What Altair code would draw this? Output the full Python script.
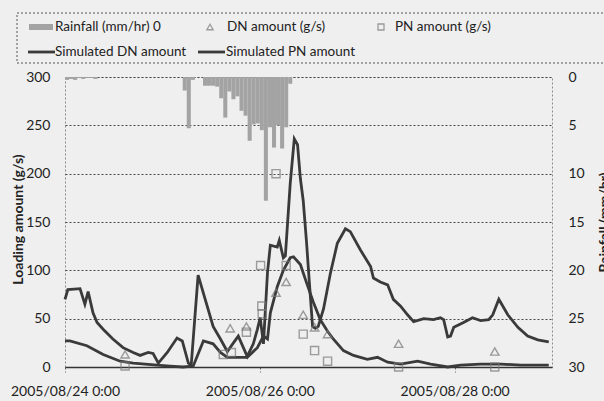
import altair as alt
import pandas as pd

BASE = pd.Timestamp("2005-08-24 00:00")

# ---------------- data (hours after 2005/08/24 0:00) ----------------
rain_hours = [0, 1, 2, 3, 4, 5, 6, 7,
              29, 30, 31, 34, 35, 36, 37, 38, 39, 40, 41, 42, 43, 44, 45,
              46, 47, 48, 49, 50, 51, 52, 53, 54, 55]
rain_mm = [0.3, 0.2, 0.3, 0.1, 0.2, 0.1, 0.1, 0.2,
           1.4, 5.3, 0.3, 0.9, 0.9, 0.9, 1.0, 2.2, 4.2, 1.5, 2.3, 2.0, 3.5, 4.0, 6.6,
           4.9, 4.8, 5.5, 12.8, 5.2, 7.3, 5.0, 7.4, 5.2, 0.7]

sim_dn_hours = [0.0, 0.7, 3.7, 4.9, 5.7, 6.9, 7.9, 9.4, 11.8, 14.3, 16.8, 18.5, 20.5, 21.7,
                23.0, 25.2, 27.6, 28.9, 30.4, 31.1, 32.8, 36.5, 38.3, 40.0, 41.5, 42.7,
                44.9, 46.4, 47.4, 48.1, 48.9, 49.9, 50.6, 52.3, 52.8, 53.8, 54.3, 55.5,
                56.5, 57.3, 58.0, 58.7, 59.5, 60.2, 61.0, 61.7, 62.4, 63.7, 65.4, 67.1,
                69.1, 70.3, 72.8, 75.3, 76.0, 77.7, 79.5, 80.9, 82.7, 84.4, 85.9, 88.4,
                90.8, 92.5, 93.3, 94.3, 95.0, 95.8, 98.2, 100.4, 102.4, 104.4, 105.4,
                106.9, 109.1, 111.6, 114.0, 116.5, 119.2]
sim_dn_vals = [70, 80, 81, 65, 78, 56, 46, 39, 29, 20, 15, 12, 15, 14,
               4, 15, 30, 27, 4, 2, 95, 42, 29, 16, 25, 32,
               11, 24, 39, 51, 24, 98, 126, 124, 131, 113, 115, 190,
               236, 230, 195, 172, 130, 88, 42, 40, 42, 60, 97, 128,
               143, 140, 121, 104, 92, 88, 85, 70, 63, 54, 47, 50,
               49, 51, 49, 31, 32, 41, 46, 51, 48, 49, 54,
               70, 54, 41, 32, 28, 26]

sim_pn_hours = [0.0, 1.2, 5.4, 9.4, 13.6, 16.8, 22.7, 25.9, 29.1, 31.6, 34.1, 36.5, 38.3,
                40.0, 44.9, 47.4, 48.9, 49.9, 50.6, 52.3, 53.8, 55.5, 56.3, 58.0, 59.7,
                61.2, 62.9, 64.7, 66.1, 68.6, 71.1, 74.5, 77.0, 79.5, 82.7, 86.9, 90.1,
                94.3, 97.5, 102.4, 107.4, 112.3, 119.2]
sim_pn_vals = [27, 27, 22, 13, 6, 4, 2, 1, 0, 1, 27, 24, 15,
               10, 10, 20, 32, 29, 56, 83, 100, 113, 114, 106, 85,
               67, 49, 37, 29, 17, 12, 8, 10, 5, 3, 6, 3,
               0, 2, 3, 3, 2, 2]

dn_obs_hours = [14.8, 40.7, 44.7, 52.0, 54.5, 58.7, 61.5, 64.7, 82.2, 105.9]
dn_obs_vals = [13, 40, 42, 77, 88, 54, 41, 34, 24, 16]

pn_obs_hours = [14.8, 39.0, 41.0, 44.7, 48.2, 48.5, 48.6, 52.0, 54.5, 58.7, 61.5, 64.7, 82.2, 105.9]
pn_obs_vals = [1, 13, 15, 36, 105, 63, 55, 200, 105, 34, 17, 6, 0, 0]

x_ticks = ["2005-08-24", "2005-08-26", "2005-08-28"]
left_ticks = [0, 50, 100, 150, 200, 250, 300]
right_ticks = [0, 5, 10, 15, 20, 25, 30]


def to_time(hours):
    return [BASE + pd.Timedelta(hours=h) for h in hours]


rain_df = pd.DataFrame({"time": to_time(rain_hours),
                        "end": to_time([h + 1 for h in rain_hours]),
                        "rain": rain_mm})
sim_df = pd.concat([
    pd.DataFrame({"time": to_time(sim_dn_hours), "value": sim_dn_vals, "series": "Simulated DN amount"}),
    pd.DataFrame({"time": to_time(sim_pn_hours), "value": sim_pn_vals, "series": "Simulated PN amount"}),
])
dn_df = pd.DataFrame({"time": to_time(dn_obs_hours), "value": dn_obs_vals})
pn_df = pd.DataFrame({"time": to_time(pn_obs_hours), "value": pn_obs_vals})

FONT = "Lato"
LINE = "#3a3a3a"
MARK = "#787878"
RAIN = "#a3a3a3"

x_enc = alt.X(
    "time:T",
    scale=alt.Scale(domain=[alt.DateTime(year=2005, month=8, date=24, hours=0),
                            alt.DateTime(year=2005, month=8, date=29, hours=0)]),
    axis=alt.Axis(
        values=[alt.DateTime(year=2005, month=8, date=int(d[-2:]), hours=0) for d in x_ticks],
        format="%Y/%m/%d %-H:%M", labelFlush=False, labelOverlap=False, grid=False,
        tickSize=5, tickColor="#666", tickDash=[2, 2], domainColor="#333", domainWidth=1.5,
        labelPadding=12, title=None),
)

y_left = alt.Y(
    "value:Q",
    scale=alt.Scale(domain=[0, 300]),
    axis=alt.Axis(values=left_ticks, grid=True, gridDash=[2, 2], gridColor="#4a4a4a",
                  ticks=False, domain=False, labelPadding=15,
                  title="Loading amount (g/s)", titleAngle=270, titleX=-43, titleY=142,
                  titleAlign="center", titleBaseline="alphabetic"),
)

rain = alt.Chart(rain_df).mark_bar(color=RAIN).encode(
    x=x_enc,
    x2="end:T",
    y=alt.Y("rain:Q", scale=alt.Scale(domain=[0, 30], reverse=True),
            axis=alt.Axis(orient="right", values=right_ticks, grid=False, ticks=False,
                          domain=False, labelPadding=16, title="Rainfall (mm/hr)",
                          titleAngle=270, titleX=56, titleY=145, titleAlign="center",
                          titleBaseline="alphabetic")),
    y2=alt.datum(0),
)

lines = alt.Chart(sim_df).mark_line(color=LINE, strokeWidth=2.8).encode(
    x=x_enc, y=y_left, detail="series:N")
dn_pts = alt.Chart(dn_df).mark_point(shape="triangle-up", filled=False, color=MARK,
                                     size=70, strokeWidth=1.4).encode(x=x_enc, y=y_left)
pn_pts = alt.Chart(pn_df).mark_point(shape="square", filled=False, color=MARK,
                                     size=65, strokeWidth=1.4).encode(x=x_enc, y=y_left)

# ---------------- manual legend ----------------
one = pd.DataFrame({"k": [0]})


def ltext(txt, x, y):
    return alt.Chart(one).mark_text(align="left", baseline="middle", font=FONT,
                                    fontSize=13.5, color="#222").encode(
        x=alt.value(x), y=alt.value(y), text=alt.value(txt))


legend_box = alt.Chart(one).mark_rect(fillOpacity=0, stroke="#555", strokeDash=[2, 2],
                                      strokeWidth=1).encode(
    x=alt.value(-48), x2=alt.value(548), y=alt.value(-64), y2=alt.value(-14))
leg_rain = alt.Chart(one).mark_rect(color=RAIN).encode(
    x=alt.value(-36), x2=alt.value(-12), y=alt.value(-53), y2=alt.value(-47))
leg_tri = alt.Chart(one).mark_point(shape="triangle-up", filled=False, color=MARK,
                                    size=40, strokeWidth=1.3).encode(
    x=alt.value(145), y=alt.value(-50))
leg_sq = alt.Chart(one).mark_point(shape="square", filled=False, color=MARK,
                                   size=36, strokeWidth=1.3).encode(
    x=alt.value(316), y=alt.value(-50))
leg_l1 = alt.Chart(one).mark_rule(color=LINE, strokeWidth=2.8).encode(
    x=alt.value(-37), x2=alt.value(-10), y=alt.value(-25))
leg_l2 = alt.Chart(one).mark_rule(color=LINE, strokeWidth=2.8).encode(
    x=alt.value(133), x2=alt.value(160), y=alt.value(-25))

legend = alt.layer(
    legend_box, leg_rain, ltext("Rainfall (mm/hr) 0", -10, -50),
    leg_tri, ltext("DN amount (g/s)", 162, -50),
    leg_sq, ltext("PN amount (g/s)", 330, -50),
    leg_l1, ltext("Simulated DN amount", -10, -25),
    leg_l2, ltext("Simulated PN amount", 161, -25),
)

loading = alt.layer(lines, dn_pts, pn_pts, legend)

chart = alt.layer(rain, loading).resolve_scale(y="independent").properties(
    width=487, height=290,
    autosize=alt.AutoSizeParams(type="none"),
    padding={"left": 65, "top": 77, "right": 52, "bottom": 34},
    background="#efefef",
).configure_view(
    stroke="#8a8a8a", strokeDash=[2, 2], strokeWidth=1
).configure_axis(
    labelFont=FONT, labelFontSize=14, labelColor="#222",
    titleFont=FONT, titleFontSize=14, titleFontWeight="bold", titleColor="#222",
)

chart.save("out.html", embed_options={"renderer": "svg", "actions": False})
